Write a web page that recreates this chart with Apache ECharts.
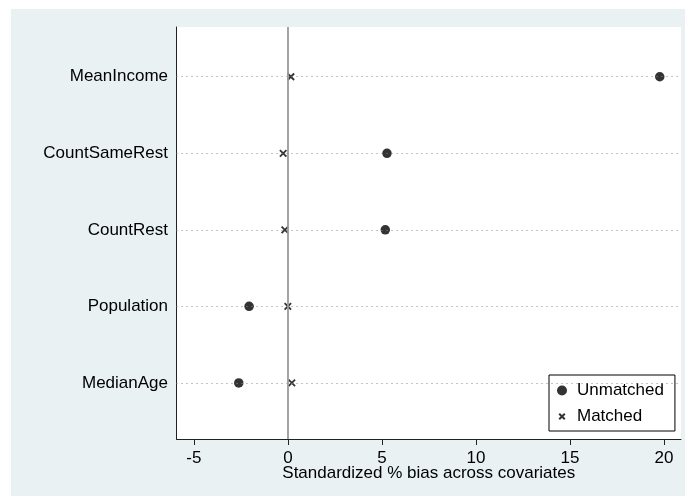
<!DOCTYPE html>
<html>
<head>
<meta charset="utf-8">
<script src="https://cdn.jsdelivr.net/npm/echarts@6/dist/echarts.min.js"></script>
<style>
  html, body { margin: 0; padding: 0; background: #fff; }
  #wrap { position: relative; width: 685px; height: 496px; background: #fff; overflow: hidden; }
  #bg { position: absolute; left: 11px; top: 9px; right: 0; bottom: 0; background: #E9F1F3; }
  #chart { position: absolute; left: 0; top: 0; width: 685px; height: 496px; }
</style>
</head>
<body>
<div id="wrap"><div id="bg"></div><div id="chart"></div></div>
<script>
// Covariates, top to bottom
const categories = ['MeanIncome', 'CountSameRest', 'CountRest', 'Population', 'MedianAge'];
// Standardized % bias
const unmatched = [19.77, 5.27, 5.18, -2.06, -2.61];
const matched = [0.16, -0.25, -0.16, 0.0, 0.21];
const xTicks = [-5, 0, 5, 10, 15, 20];
const seriesNames = ['Unmatched', 'Matched'];

const n = categories.length;
const yPos = categories.map((c, i) => n - i);
const FONT = '"Liberation Sans", Arial, sans-serif';
const CROSS = 'path://M0,0L10,10M10,0L0,10';
const CROSS_LEGEND = 'path://M0,0L0,0M2.2,2.2L7.8,7.8M7.8,2.2L2.2,7.8M10,10L10,10';

const chart = echarts.init(document.getElementById('chart'), null, { renderer: 'canvas' });
chart.setOption({
  animation: false,
  textStyle: { fontFamily: FONT },
  grid: {
    show: true, backgroundColor: '#ffffff', borderWidth: 0,
    left: 176.5, right: 4, top: 27, bottom: 57
  },
  xAxis: {
    type: 'value', min: -5.92, max: 20.9,
    name: 'Standardized % bias across covariates',
    nameLocation: 'middle', nameGap: 26, nameMoveOverlap: false,
    nameTextStyle: { fontSize: 17, color: '#000', fontFamily: FONT },
    axisLine: { show: true, onZero: false, lineStyle: { color: '#222', width: 1 } },
    axisTick: { show: true, length: 6, customValues: xTicks, lineStyle: { color: '#222' } },
    axisLabel: { customValues: xTicks, margin: 11, fontSize: 17, color: '#000', fontFamily: FONT },
    splitLine: { show: false }
  },
  yAxis: {
    type: 'value', min: 0.267, max: 5.65,
    axisLine: { show: true, onZero: false, lineStyle: { color: '#222', width: 1 } },
    axisTick: { show: false },
    axisLabel: {
      customValues: yPos, margin: 8.5, fontSize: 17, color: '#000', fontFamily: FONT,
      formatter: v => { const i = n - Math.round(v); return categories[i] || ''; }
    },
    splitLine: { show: false }
  },
  legend: {
    data: [{ name: seriesNames[0], icon: 'circle' }, { name: seriesNames[1], icon: CROSS_LEGEND }],
    orient: 'vertical',
    left: 549, top: 375,
    padding: [7, 11, 6, 7],
    itemGap: 9, itemWidth: 10, itemHeight: 10,
    backgroundColor: '#fff', borderColor: '#000', borderWidth: 1, borderRadius: 0,
    textStyle: { fontSize: 17, color: '#000', fontFamily: FONT, padding: [0, 0, 0, 5] }
  },
  series: [
    {
      name: 'guides', type: 'scatter', data: [], z: 1, silent: true,
      markLine: {
        silent: true, symbol: 'none', animation: false,
        label: { show: false },
        data: yPos.map(v => ({ yAxis: v, lineStyle: { color: '#8a8a8a', width: 1, type: [1, 4] } }))
          .concat([{ xAxis: 0, lineStyle: { color: '#9a9a9a', width: 1.8, type: 'solid' } }])
      }
    },
    {
      name: seriesNames[0], type: 'scatter', z: 3,
      symbol: 'circle', symbolSize: 9.5,
      itemStyle: { color: '#000' },
      data: unmatched.map((v, i) => [v, yPos[i]])
    },
    {
      name: seriesNames[1], type: 'scatter', z: 4,
      symbol: CROSS, symbolSize: 6.5,
      itemStyle: { color: '#000', borderColor: '#000', borderWidth: 1.8 },
      data: matched.map((v, i) => [v, yPos[i]])
    }
  ]
});
</script>
</body>
</html>
